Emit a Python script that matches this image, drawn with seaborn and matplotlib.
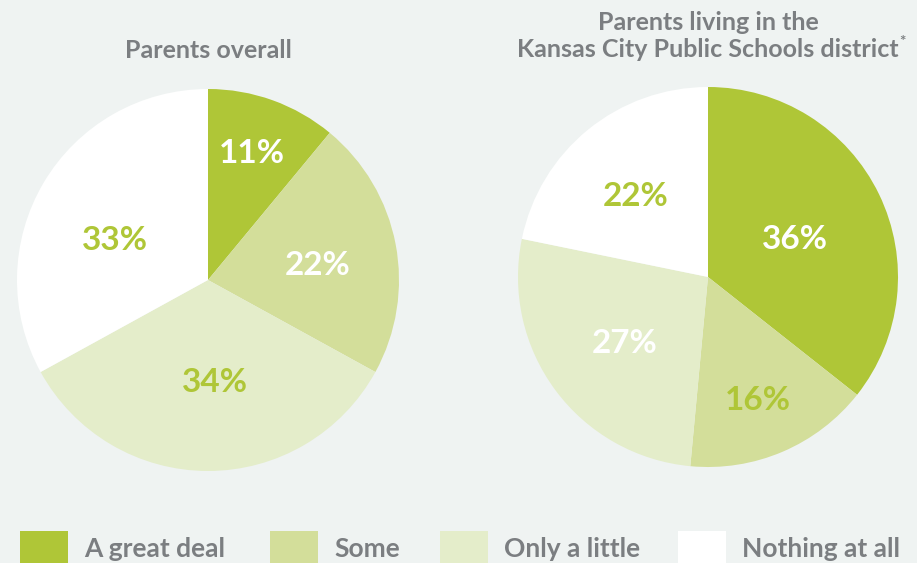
import matplotlib
matplotlib.use('Agg')
import matplotlib.pyplot as plt
import seaborn as sns
import numpy as np
from matplotlib.patches import Rectangle

sns.set_theme(style='white')
plt.rcParams['font.family'] = ['Lato', 'DejaVu Sans']

# data
categories = ['A great deal', 'Some', 'Only a little', 'Nothing at all']
overall = [11, 22, 34, 33]
kcps = [36, 16, 27, 22]
titles = ['Parents overall', 'Parents living in the\nKansas City Public Schools district']

# styles
colors = ['#afc637', '#d3de9a', '#e4edca', '#ffffff']
label_colors_left = ['white', 'white', '#afc637', '#afc637']
label_colors_right = ['white', '#afc637', 'white', '#afc637']
dist_left = [0.70, 0.58, 0.54, 0.53]
dist_right = [0.50, 0.70, 0.56, 0.57]
turn_left = [0.7, -3.5, 3.9, 7.6]
turn_right = [-2.6, -1.0, 2.0, 2.6]
bg = '#eff3f2'
gray = '#7b7e81'

W, H = 917, 563
fig = plt.figure(figsize=(W / 100, H / 100), dpi=100)
fig.patch.set_facecolor(bg)


def draw_pie(cx, cy, r, values, lab_colors, dists, turns):
    ax = fig.add_axes([(cx - r) / W, (H - cy - r) / H, 2 * r / W, 2 * r / H])
    ax.set_facecolor(bg)
    wedges, texts, autotexts = ax.pie(values, colors=colors, startangle=90, counterclock=False,
                                      autopct=lambda p: f'{p * sum(values) / 100:.0f}%',
                                      pctdistance=1.0, radius=1.0,
                                      wedgeprops=dict(linewidth=0))
    for t, c, d, a in zip(autotexts, lab_colors, dists, turns):
        x, y = t.get_position()
        ang = np.arctan2(y, x) + np.deg2rad(a)
        t.set_position((d * np.cos(ang), d * np.sin(ang)))
        t.set_color(c)
        t.set_fontsize(24)
        t.set_fontweight('bold')
    ax.set_xlim(-1, 1)
    ax.set_ylim(-1, 1)
    ax.set_aspect('equal')
    ax.axis('off')
    return ax


draw_pie(208, 280, 191, overall, label_colors_left, dist_left, turn_left)
draw_pie(708, 277, 190, kcps, label_colors_right, dist_right, turn_right)

# titles
fig.text(208 / W, 1 - 50 / H, titles[0], ha='center', va='center', fontsize=18,
         fontweight='bold', color=gray)
fig.text(708 / W, 1 - 36 / H, titles[1], ha='center', va='center', fontsize=18,
         fontweight='bold', color=gray, linespacing=1.25)
fig.text(899 / W, 1 - 42 / H, '*', ha='left', va='center', fontsize=11,
         fontweight='bold', color=gray)

# legend
sq_x = [20, 270, 440, 678]
for x, c, name in zip(sq_x, colors, categories):
    fig.patches.append(Rectangle((x / W, 0), 48 / W, 32 / H, transform=fig.transFigure,
                                 facecolor=c, edgecolor='none'))
    fig.text((x + 64) / W, 14 / H, name, ha='left', va='center', fontsize=19,
             fontweight='bold', color=gray)

fig.savefig('out.png', dpi=100, facecolor=bg)
